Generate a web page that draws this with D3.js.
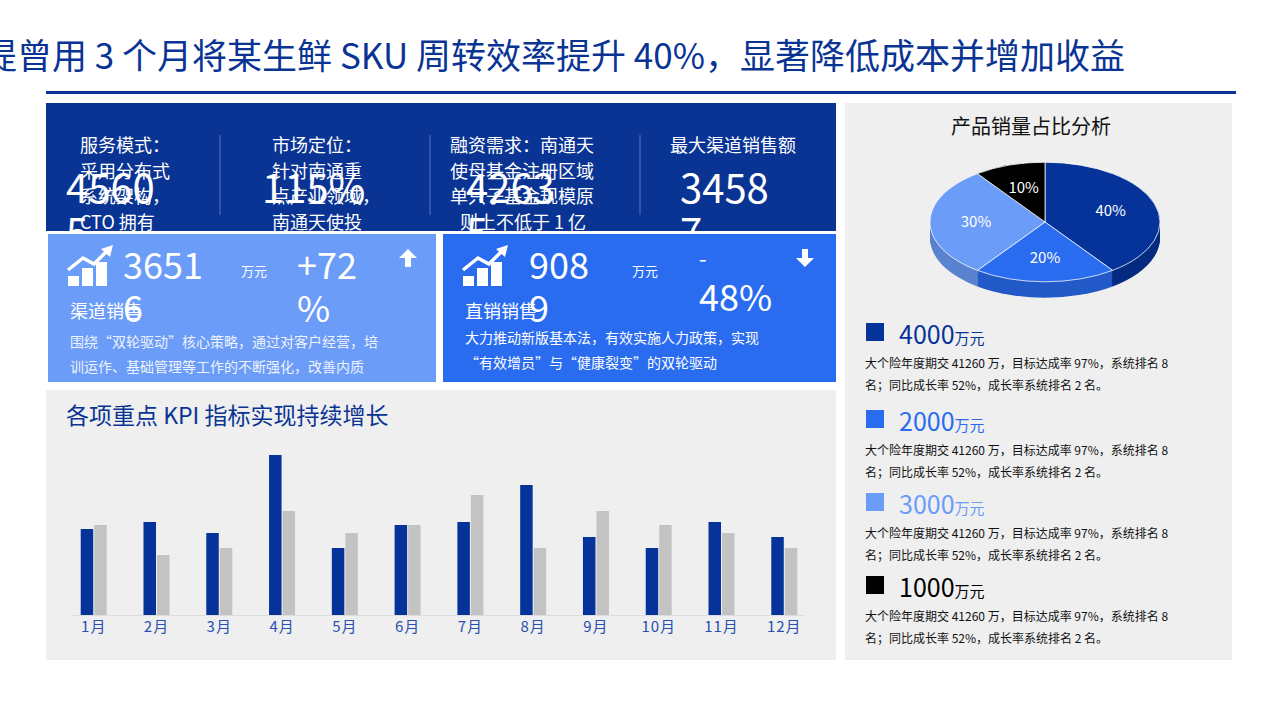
<!DOCTYPE html>
<html><head><meta charset="utf-8">
<script src="https://cdn.jsdelivr.net/npm/d3@7"></script>
<style>body{margin:0;background:#fff;overflow:hidden}svg{font-family:"Noto Sans CJK SC","Noto Sans",sans-serif}</style>
</head><body><div id="chart"></div>
<script>
const W = 1280, H = 719
const months = ['1月','2月','3月','4月','5月','6月','7月','8月','9月','10月','11月','12月']
const seriesA = [86, 93, 82, 160, 67, 90, 93, 130, 78, 67, 93, 78]
const seriesB = [90, 60, 67, 104, 82, 90, 120, 67, 104, 90, 82, 67]
const pieLabels = ['40%', '20%', '30%', '10%']
const pieValues = [40, 20, 30, 10]
const pieColors = ['#06339a', '#2a6cf0', '#6b9cf8', '#000000']
const legendValues = ['4000', '2000', '3000', '1000']
const legendColors = ['#06339a', '#2a6cf0', '#6b9cf8', '#000000']
const legendDesc = ['大个险年度期交 41260 万，目标达成率 97%，系统排名 8', '名；同比成长率 52%，成长率系统排名 2 名。']

const svg = d3.select('#chart').append('svg').attr('width', W).attr('height', H)

// title
svg.append('text').attr('x', -18).attr('y', 69).attr('font-size', 35).attr('fill', '#0a3494')
    .text('提曾用 3 个月将某生鲜 SKU 周转效率提升 40%，显著降低成本并增加收益')
svg.append('rect').attr('x', 46).attr('y', 91).attr('width', 1190).attr('height', 3).attr('fill', '#0a3494')

// panels
const panel = (x, y, w, h, fill, id) => {
    svg.append('clipPath').attr('id', id).append('rect').attr('x', x).attr('y', y).attr('width', w).attr('height', h)
    svg.append('rect').attr('x', x).attr('y', y).attr('width', w).attr('height', h).attr('fill', fill)
    return svg.append('g').attr('clip-path', `url(#${id})`)
}
const topP = panel(46, 103, 790, 128, '#0a3494', 'c1')
const c1 = panel(48, 234, 388, 148, '#6b9cf8', 'c2')
const c2 = panel(443, 234, 393, 148, '#2a6cf0', 'c3')
const bp = panel(46, 390, 790, 270, '#efefef', 'c4')
const rp = panel(845, 103, 387, 557, '#efefef', 'c5')

const txt = (g, x, y, s, size, fill, anchor) => g.append('text').attr('x', x).attr('y', y)
    .attr('font-size', size).attr('fill', fill || '#fff').attr('text-anchor', anchor || 'start').text(s)

// top panel
const cols = [
    { x: 80, lines: ['服务模式：', '采用分布式', '系统架构，', 'CTO 拥有'], num: ['4560', '5'], nx: 66 },
    { x: 272, lines: ['市场定位：', '针对南通重', '点产业领域，', '南通天使投'], num: ['115%'], nx: 262 },
    { x: 450, lines: ['融资需求：南通天', '使母基金注册区域', '单只子基金规模原', '则上不低于 1 亿'], num: ['4263', '5'], nx: 466 },
    { x: 670, lines: ['最大渠道销售额'], num: ['3458', '7'], nx: 680 }
]
cols.forEach((c, i) => {
    c.lines.forEach((l, j) => txt(topP, i == 2 && j == 3 ? c.x + 10 : c.x, 152 + j * 25.5, l, 18))
    c.num.forEach((n, j) => txt(topP, c.nx, 203 + j * 44, n, 40))
})
;[220, 430, 640].forEach(x => topP.append('line').attr('x1', x).attr('x2', x).attr('y1', 135).attr('y2', 215)
    .attr('stroke', '#5577c0').attr('stroke-width', 1))

// cards
const icon = (g, x, y) => {
    ;[[0, 18, 10], [14, 10, 18], [28, 4, 24]].forEach(([dx, dy, h]) =>
        g.append('rect').attr('x', x + dx).attr('y', y + 34 - h).attr('width', 11).attr('height', h).attr('fill', '#fff'))
    g.append('path').attr('d', `M${x},${y + 18} L${x + 15},${y + 6} L${x + 26},${y + 12} L${x + 40},${y - 2}`)
        .attr('fill', 'none').attr('stroke', '#fff').attr('stroke-width', 3.5)
    g.append('path').attr('d', `M${x + 33},${y - 3} L${x + 45},${y - 7} L${x + 42},${y + 5} Z`).attr('fill', '#fff')
}
const arrow = (g, x, y, up) => {
    const d = up ? `M${x},${y} L${x + 9},${y + 9} L${x + 3},${y + 9} L${x + 3},${y + 18} L${x - 3},${y + 18} L${x - 3},${y + 9} L${x - 9},${y + 9} Z`
        : `M${x},${y + 18} L${x + 9},${y + 9} L${x + 3},${y + 9} L${x + 3},${y} L${x - 3},${y} L${x - 3},${y + 9} L${x - 9},${y + 9} Z`
    g.append('path').attr('d', d).attr('fill', '#fff')
}
icon(c1, 68, 252); icon(c2, 463, 252)
txt(c1, 123, 279, '3651', 36); txt(c1, 123, 322, '6', 36)
txt(c1, 241, 276, '万元', 13)
txt(c1, 297, 279, '+72', 36); txt(c1, 297, 322, '%', 36)
arrow(c1, 408, 249, true)
txt(c1, 70, 318, '渠道销售', 18)
txt(c1, 70, 347, '围绕“双轮驱动”核心策略，通过对客户经营，培', 14, '#eef3ff')
txt(c1, 70, 372, '训运作、基础管理等工作的不断强化，改善内质', 14, '#eef3ff')
txt(c2, 529, 279, '908', 36); txt(c2, 529, 322, '9', 36)
txt(c2, 632, 276, '万元', 13)
txt(c2, 699, 267, '-', 22)
txt(c2, 699, 311, '48%', 36)
arrow(c2, 805, 249, false)
txt(c2, 465, 318, '直销销售', 18)
txt(c2, 465, 343, '大力推动新版基本法，有效实施人力政策，实现', 14)
txt(c2, 465, 368, '“有效增员”与“健康裂变”的双轮驱动', 14)

// bar chart
txt(bp, 66, 424, '各项重点 KPI 指标实现持续增长', 23, '#0a3494')
const x = d3.scaleBand().domain(months).range([73, 805]).paddingInner(0.5).paddingOuter(0.08)
const y = d3.scaleLinear().domain([0, 160]).range([615, 455])
const bw = 12.5
bp.append('line').attr('x1', 73).attr('x2', 805).attr('y1', 615.5).attr('y2', 615.5).attr('stroke', '#dddddd')
bp.selectAll('.a').data(seriesA).join('rect').attr('x', (d, i) => x(months[i]) + x.bandwidth() / 2 - bw - 0.5)
    .attr('y', d => y(d)).attr('width', bw).attr('height', d => 615 - y(d)).attr('fill', '#06339a')
bp.selectAll('.b').data(seriesB).join('rect').attr('x', (d, i) => x(months[i]) + x.bandwidth() / 2 + 0.5)
    .attr('y', d => y(d)).attr('width', bw).attr('height', d => 615 - y(d)).attr('fill', '#c3c3c3')
bp.append('g').attr('transform', 'translate(0,615)').call(d3.axisBottom(x).tickSize(0).tickPadding(6))
    .call(g => g.select('.domain').remove())
    .selectAll('text').attr('font-size', 15).attr('fill', '#2a4fb0').attr('font-family', '"Noto Sans CJK SC",sans-serif')
    .attr('letter-spacing', 1)

// pie
txt(rp, 1031, 134, '产品销量占比分析', 20, '#111', 'middle')
const cx = 1045, cy = 222, R = 115, sy = 0.52, depth = 16
const arcs = d3.pie().sort(null)(pieValues)
const arc = d3.arc().innerRadius(0).outerRadius(R)
for (let k = depth; k > 0; k--) {
    rp.append('g').attr('transform', `translate(${cx},${cy + k}) scale(1,${sy})`)
        .selectAll('path').data(arcs).join('path').attr('d', arc)
        .attr('fill', (d, i) => d3.color(pieColors[i]).darker(0.5))
}
const topG = rp.append('g').attr('transform', `translate(${cx},${cy}) scale(1,${sy})`)
topG.selectAll('path').data(arcs).join('path').attr('d', arc)
    .attr('fill', (d, i) => pieColors[i]).attr('stroke', '#fff').attr('stroke-width', 1)
const lab = d3.arc().innerRadius(R * 0.6).outerRadius(R * 0.6)
arcs.forEach((d, i) => {
    const [lx, ly] = lab.centroid(d)
    txt(rp, cx + lx, cy + ly * sy + 5, pieLabels[i], 15, '#fff', 'middle')
})

// legend
const ly0 = [323, 410, 493, 576]
legendValues.forEach((v, i) => {
    const yy = ly0[i]
    rp.append('rect').attr('x', 866).attr('y', yy).attr('width', 18).attr('height', 18).attr('fill', legendColors[i])
    const c = i == 3 ? '#000' : legendColors[i]
    const t = rp.append('text').attr('x', 899).attr('y', yy + 21).attr('fill', c)
    t.append('tspan').attr('font-size', 25).text(v)
    t.append('tspan').attr('font-size', 15).text('万元')
    legendDesc.forEach((l, j) => txt(rp, 865, yy + 45 + j * 22, l, 12, '#111'))
})
</script></body></html>
